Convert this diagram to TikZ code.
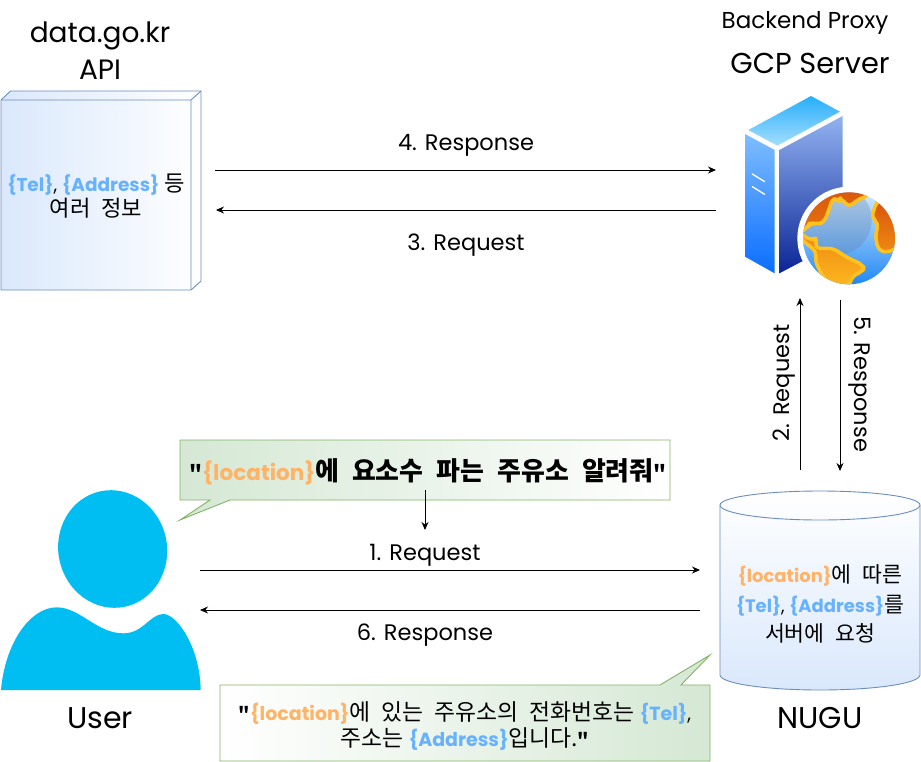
\documentclass[tikz,border=0pt]{standalone}
\usepackage{fontspec}
\setmainfont{Poppins}
\newfontfamily\krf[Scale=1.2,WordSpace=2.2]{Noto Sans CJK KR}
\newfontfamily\qf[Scale=0.95]{Noto Sans CJK KR}
\usetikzlibrary{arrows.meta}
\newcommand{\kr}[1]{{\krf #1}}
\newcommand{\qt}{{\qf\bfseries "}}
\newcommand{\loc}{\textbf{\textcolor{locc}{\{location\}}}}
\newcommand{\tel}{\textbf{\textcolor{telc}{\{Tel\}}}}
\newcommand{\addr}{\textbf{\textcolor{telc}{\{Address\}}}}
\definecolor{locc}{HTML}{FFB366}
\definecolor{telc}{HTML}{66B2FF}
\definecolor{bluef}{HTML}{DAE8FC}
\definecolor{blues}{HTML}{6C8EBF}
\definecolor{greenf}{HTML}{D5E8D4}
\definecolor{greens}{HTML}{82B366}
\definecolor{userc}{HTML}{00BEF2}
\tikzset{
  x=1pt,y=-1pt,
  conn/.style={draw=black,line width=0.9pt,-{Stealth[length=8pt,width=7pt]}},
  lab/.style={inner sep=0pt,font=\fontsize{22.5}{26}\selectfont},
  big/.style={inner sep=0pt,font=\fontsize{28}{30}\selectfont},
  bigger/.style={inner sep=0pt,font=\fontsize{30}{32}\selectfont},
  inbox/.style={inner sep=0pt,align=center,font=\fontsize{18}{29.5}\selectfont},
  zoomed/.style={x=0.33333pt,y=-0.33333pt},
  land/.style={draw=oe,line width=3.5pt,line join=round,rounded corners=5pt}
}
\definecolor{oe}{HTML}{FFC21F}
\begin{document}
\begin{tikzpicture}
\useasboundingbox (0,0) rectangle (921,761);
% API cube
\shade[left color=bluef,right color=white,draw=blues,line width=0.9pt]
  (1,100) -- (10.5,91) -- (201,91) -- (201,281) -- (191,290) -- (1,290) -- cycle;
\draw[blues,line width=0.9pt] (1,100) -- (191,100) -- (191,290) (191,100) -- (201,91);
\node[inbox,font=\fontsize{18.5}{25}\selectfont] (api) at (96,196) {\tel, \addr{} \kr{등}\\\kr{여러 정보}};
\node[big] (apit1) at (100,36) {data.go.kr};
\node[big] (apit2) at (100,70) {API};
% Server
\node[inner sep=0pt,font=\fontsize{23}{26}\selectfont] (srvt1) at (805,23) {Backend Proxy};
\node[inner sep=0pt,font=\fontsize{28.8}{30}\selectfont] (srvt2) at (810,63) {GCP Server};
\begin{scope}[xshift=700pt,zoomed]
\definecolor{st}{HTML}{26AEFA}\definecolor{sb}{HTML}{A5DEFF}
\definecolor{lt}{HTML}{7FBDFF}\definecolor{lb}{HTML}{0A6EFF}
\definecolor{rt}{HTML}{92B2F0}\definecolor{rb}{HTML}{0A2596}
\shade[top color=st,bottom color=sb] (333,288) -- (420,335) -- (232,437) -- (145,390) -- cycle;
\shade[top color=lt,bottom color=lb] (135,402) -- (224,450) -- (224,820) -- (135,770) -- cycle;
\shade[top color=rt,bottom color=rb] (238,450) -- (428,348) -- (428,720) -- (238,820) -- cycle;
\draw[white,line width=1.3pt,line cap=round] (157,522) -- (194,545) (157,560) -- (194,583);
\fill[white] (447,715) circle[radius=155];
\definecolor{gt}{HTML}{CFE8FB}\definecolor{gb}{HTML}{2288F5}
\definecolor{ct}{HTML}{B9CCE0}\definecolor{cb}{HTML}{5C9ADD}
\begin{scope}
\clip (447,715) circle[radius=138];
\shade[top color=gt,bottom color=gb] (309,577) rectangle (585,853);
\shade[top color=ct,bottom color=cb] (410,660) circle[radius=105];
\definecolor{ot}{HTML}{D9540A}\definecolor{om}{HTML}{EE8A14}\definecolor{ob}{HTML}{FDB81E}
\shade[top color=ot,bottom color=om!60!ot,land]
  (300,700) -- (322,682) -- (330,668) -- (350,672) -- (372,668) -- (388,625) -- (398,592) -- (414,606) -- (424,592) -- (444,622) -- (478,596) -- (510,586) -- (495,560) -- (360,560) -- (300,620) -- cycle;
\shade[top color=ot,bottom color=om,land]
  (530,605) -- (514,652) -- (536,670) -- (526,705) -- (534,750) -- (560,758) -- (600,740) -- (600,640) -- (545,600) -- cycle;
\shade[top color=om,bottom color=ob,land]
  (300,700) -- (335,722) -- (352,712) -- (345,745) -- (400,745) -- (440,772) -- (492,796) -- (490,815) -- (460,825) -- (445,860) -- (400,860) -- (368,830) -- (345,782) -- (350,755) -- (300,715) -- cycle;
\end{scope}
\end{scope}
% Flow labels and arrows top
\coordinate (a4s) at (215,170); \coordinate (a4e) at (716,170);
\coordinate (a3s) at (716,210); \coordinate (a3e) at (216,210);
\draw[conn] (a4s) -- (a4e);
\draw[conn] (a3s) -- (a3e);
\node[lab] (l4) at (466,145) {4. Response};
\node[lab] (l3) at (466,245) {3. Request};
\coordinate (a2s) at (800,470); \coordinate (a2e) at (800,298);
\coordinate (a5s) at (840,300); \coordinate (a5e) at (840,471);
\draw[conn] (a2s) -- (a2e);
\draw[conn] (a5s) -- (a5e);
\node[lab,rotate=90] (l2) at (784,383) {2. Request};
\node[lab,rotate=-90] (l5) at (860,384) {5. Response};
% User
\begin{scope}[yshift=-430pt,zoomed]
\fill[userc] (3,780) .. controls (15,640) and (90,532) .. (170,532)
  .. controls (240,532) and (290,610) .. (370,610)
  .. controls (430,610) and (450,552) .. (490,552)
  .. controls (530,552) and (600,650) .. (602,780) -- cycle;
\fill[userc,rotate around={12:(338,357)}] (338,357) ellipse[x radius=163,y radius=177];
\end{scope}
\node[bigger] (usert) at (100,718) {User};
% Top callout
\shade[left color=greenf,right color=white,draw=greens,line width=0.9pt]
  (180,440) -- (670,440) -- (670,500) -- (230,500) -- (180,520) -- (210,500) -- (180,500) -- cycle;
\node[inner sep=0pt,font=\fontsize{21.6}{26}\selectfont] (q) at (428,472) {\qt\loc\kr{\bfseries 에 요소수 파는 주유소 알려줘}\qt};
\coordinate (a0s) at (425,490); \coordinate (a0e) at (425,530);
\draw[conn] (a0s) -- (a0e);
% middle arrows
\coordinate (a1s) at (200,570); \coordinate (a1e) at (700,570);
\coordinate (a6s) at (700,610); \coordinate (a6e) at (200,610);
\draw[conn] (a1s) -- (a1e);
\draw[conn] (a6s) -- (a6e);
\node[lab] (l1) at (425,555) {1. Request};
\node[lab] (l6) at (425,635) {6. Response};
% Bottom callout
\shade[left color=white,right color=greenf,draw=greens,line width=0.9pt]
  (220,685) -- (660,685) -- (710,655) -- (681,685) -- (710,685) -- (710,761) -- (220,761) -- cycle;
\node[inbox,font=\fontsize{19}{26}\selectfont] (a) at (465,726) {\qt\loc\kr{에 있는 주유소의 전화번호는} \tel,\\\kr{주소는} \addr\kr{입니다.}\qt};
% NUGU cylinder
\shade[top color=white,bottom color=bluef,draw=blues,line width=0.9pt]
  (720,505) arc[start angle=180,end angle=0,x radius=100,y radius=-14]
  -- (920,675) arc[start angle=0,end angle=-180,x radius=100,y radius=-15] -- cycle;
\draw[blues,line width=0.9pt] (720,505) arc[start angle=180,end angle=360,x radius=100,y radius=-15];
\node[inbox] (db) at (820,604) {\loc\kr{에 따른}\\\tel, \addr\kr{를}\\\kr{서버에 요청}};
\node[bigger] (nugu) at (820,718) {NUGU};
\end{tikzpicture}
\end{document}
